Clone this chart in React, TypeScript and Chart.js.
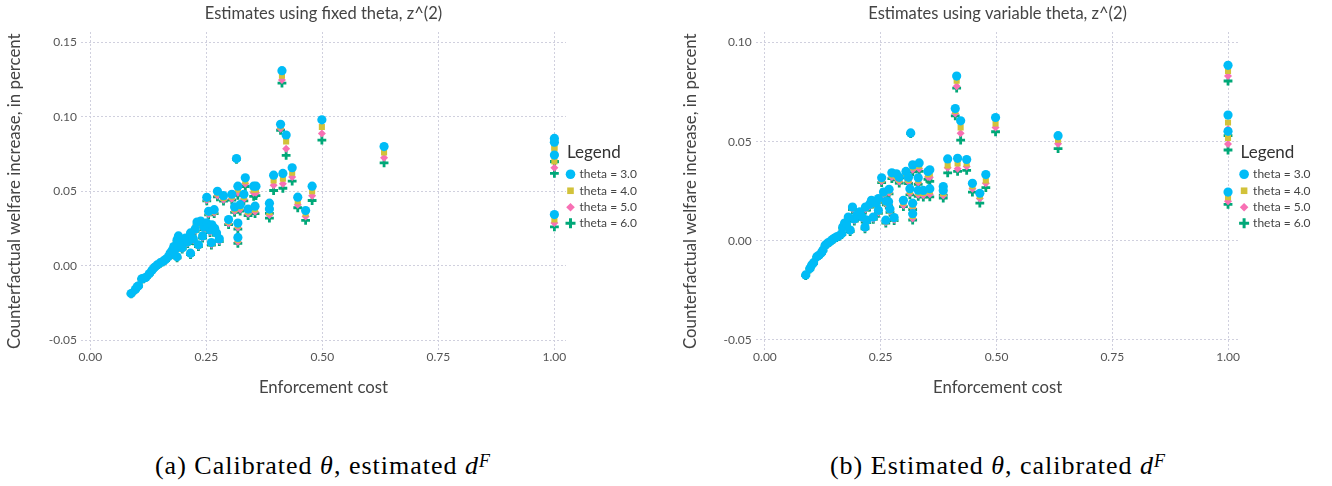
import React, { useEffect, useRef } from 'react';
import { Chart, registerables } from 'chart.js';

Chart.register(...registerables);

// ---------- data ----------
const seriesLabels = ['theta = 3.0', 'theta = 4.0', 'theta = 5.0', 'theta = 6.0'];
const xTicks = [0, 0.25, 0.5, 0.75, 1.0];
const leftYTicks = [-0.05, 0.0, 0.05, 0.1, 0.15];
const rightYTicks = [-0.05, 0.0, 0.05, 0.1];

// Panel (a): fixed theta
const leftX = [
  0.088, 0.097, 0.101, 0.104, 0.111, 0.115, 0.120, 0.127, 0.133, 0.138,
  0.144, 0.151, 0.157, 0.162, 0.168, 0.172, 0.176, 0.180, 0.183, 0.187,
  0.187, 0.190, 0.193, 0.198, 0.205, 0.210, 0.216, 0.216, 0.222, 0.226,
  0.230, 0.233, 0.238, 0.242, 0.245, 0.251, 0.251, 0.255, 0.258, 0.261,
  0.262, 0.267, 0.268, 0.272, 0.274, 0.278, 0.287, 0.298, 0.305, 0.311,
  0.315, 0.318, 0.318, 0.318, 0.323, 0.331, 0.334, 0.340, 0.352, 0.355,
  0.357, 0.386, 0.386, 0.395, 0.413, 0.410, 0.415, 0.422, 0.435, 0.447,
  0.464, 0.478, 0.499, 0.633, 1.0, 1.0, 1.0, 1.0,
];
const leftTheta3 = [
  -0.0187, -0.0160, -0.0142, -0.0135, -0.0088, -0.0085, -0.0078, -0.0055, -0.0030, -0.0012,
  0.0005, 0.0020, 0.0030, 0.0042, 0.0060, 0.0084, 0.0100, 0.0128, 0.0110, 0.0174,
  0.0060, 0.0200, 0.0150, 0.0120, 0.0185, 0.0160, 0.0220, 0.0084, 0.0180, 0.0246,
  0.0293, 0.0140, 0.0300, 0.0200, 0.0260, 0.0287, 0.0459, 0.0365, 0.0240, 0.0155,
  0.0275, 0.0376, 0.0250, 0.0220, 0.0500, 0.0180, 0.0470, 0.0310, 0.0480, 0.0395,
  0.0720, 0.0534, 0.0286, 0.0190, 0.0410, 0.0480, 0.0590, 0.0380, 0.0534, 0.0400,
  0.0534, 0.0420, 0.0380, 0.0608, 0.1310, 0.0950, 0.0620, 0.0878, 0.0658, 0.0460,
  0.0370, 0.0534, 0.0980, 0.0800, 0.0855, 0.0830, 0.0743, 0.0343,
];
const leftTheta4 = [
  -0.0188, -0.0161, -0.0143, -0.0136, -0.0089, -0.0086, -0.0079, -0.0056, -0.0031, -0.0013,
  0.0004, 0.0018, 0.0028, 0.0040, 0.0058, 0.0081, 0.0097, 0.0124, 0.0107, 0.0169,
  0.0057, 0.0195, 0.0146, 0.0116, 0.0180, 0.0155, 0.0214, 0.0080, 0.0175, 0.0239,
  0.0285, 0.0135, 0.0292, 0.0194, 0.0252, 0.0279, 0.0450, 0.0355, 0.0233, 0.0148,
  0.0267, 0.0365, 0.0242, 0.0213, 0.0485, 0.0172, 0.0455, 0.0296, 0.0463, 0.0380,
  0.0718, 0.0510, 0.0270, 0.0175, 0.0392, 0.0462, 0.0568, 0.0362, 0.0510, 0.0380,
  0.0512, 0.0392, 0.0360, 0.0572, 0.1277, 0.0935, 0.0585, 0.0834, 0.0625, 0.0433,
  0.0350, 0.0500, 0.0932, 0.0760, 0.0795, 0.0785, 0.0700, 0.0310,
];
const leftTheta5 = [
  -0.0189, -0.0162, -0.0144, -0.0137, -0.0090, -0.0087, -0.0080, -0.0057, -0.0032, -0.0014,
  0.0003, 0.0017, 0.0027, 0.0038, 0.0056, 0.0079, 0.0095, 0.0121, 0.0104, 0.0166,
  0.0055, 0.0191, 0.0142, 0.0113, 0.0176, 0.0151, 0.0209, 0.0077, 0.0170, 0.0234,
  0.0279, 0.0131, 0.0286, 0.0189, 0.0246, 0.0273, 0.0442, 0.0347, 0.0227, 0.0143,
  0.0260, 0.0356, 0.0236, 0.0207, 0.0472, 0.0166, 0.0443, 0.0284, 0.0450, 0.0368,
  0.0716, 0.0490, 0.0256, 0.0160, 0.0378, 0.0448, 0.0550, 0.0348, 0.0490, 0.0362,
  0.0490, 0.0372, 0.0340, 0.0540, 0.1248, 0.0920, 0.0550, 0.0786, 0.0595, 0.0410,
  0.0330, 0.0469, 0.0888, 0.0725, 0.0745, 0.0742, 0.0658, 0.0286,
];
const leftTheta6 = [
  -0.0190, -0.0163, -0.0145, -0.0138, -0.0091, -0.0088, -0.0081, -0.0058, -0.0033, -0.0015,
  0.0002, 0.0016, 0.0026, 0.0037, 0.0055, 0.0077, 0.0093, 0.0119, 0.0102, 0.0163,
  0.0053, 0.0188, 0.0140, 0.0111, 0.0173, 0.0148, 0.0206, 0.0075, 0.0167, 0.0230,
  0.0274, 0.0128, 0.0281, 0.0185, 0.0242, 0.0268, 0.0436, 0.0341, 0.0223, 0.0139,
  0.0255, 0.0349, 0.0231, 0.0203, 0.0462, 0.0162, 0.0434, 0.0276, 0.0440, 0.0358,
  0.0714, 0.0472, 0.0246, 0.0150, 0.0366, 0.0436, 0.0532, 0.0336, 0.0466, 0.0350,
  0.0470, 0.0352, 0.0320, 0.0505, 0.1226, 0.0910, 0.0520, 0.0741, 0.0568, 0.0389,
  0.0304, 0.0438, 0.0843, 0.0690, 0.0700, 0.0698, 0.0620, 0.0260,
];

// Panel (b): variable theta
const rightX = [
  0.088, 0.097, 0.101, 0.105, 0.112, 0.117, 0.122, 0.125, 0.130, 0.135,
  0.140, 0.145, 0.149, 0.155, 0.160, 0.166, 0.168, 0.172, 0.176, 0.180,
  0.184, 0.189, 0.193, 0.198, 0.205, 0.210, 0.216, 0.217, 0.220, 0.226,
  0.230, 0.234, 0.240, 0.245, 0.245, 0.252, 0.256, 0.261, 0.262, 0.267,
  0.268, 0.270, 0.274, 0.279, 0.284, 0.290, 0.299, 0.3045, 0.310, 0.313,
  0.3147, 0.319, 0.319, 0.319, 0.331, 0.331, 0.333, 0.342, 0.352, 0.356,
  0.356, 0.385, 0.385, 0.3946, 0.411, 0.414, 0.416, 0.4226, 0.4356, 0.448,
  0.464, 0.477, 0.498, 0.633, 1.0, 1.0, 1.0, 1.0,
];
const rightTheta3 = [
  -0.0172, -0.0139, -0.0122, -0.0110, -0.0080, -0.0072, -0.0060, -0.0047, -0.0022, -0.0012,
  -0.0005, 0.0005, 0.0012, 0.0020, 0.0025, 0.0037, 0.0070, 0.0090, 0.0087, 0.0120,
  0.0054, 0.0170, 0.0110, 0.0130, 0.0146, 0.0120, 0.0070, 0.0170, 0.0104, 0.0185,
  0.0204, 0.0120, 0.0190, 0.0213, 0.0154, 0.0318, 0.0246, 0.0104, 0.0200, 0.0197,
  0.0260, 0.0160, 0.0343, 0.0117, 0.0338, 0.0320, 0.0204, 0.0350, 0.0320, 0.0263,
  0.0544, 0.0383, 0.0190, 0.0137, 0.0318, 0.0255, 0.0393, 0.0254, 0.0350, 0.0358,
  0.0263, 0.0274, 0.0254, 0.0413, 0.0667, 0.0831, 0.0416, 0.0605, 0.0410, 0.0290,
  0.0240, 0.0334, 0.0622, 0.0530, 0.0885, 0.0634, 0.0552, 0.0246,
];
const rightTheta4 = [
  -0.0173, -0.0140, -0.0123, -0.0111, -0.0081, -0.0073, -0.0061, -0.0048, -0.0023, -0.0013,
  -0.0006, 0.0004, 0.0011, 0.0018, 0.0023, 0.0035, 0.0067, 0.0087, 0.0084, 0.0116,
  0.0051, 0.0165, 0.0106, 0.0126, 0.0141, 0.0116, 0.0066, 0.0164, 0.0099, 0.0179,
  0.0197, 0.0115, 0.0183, 0.0205, 0.0148, 0.0308, 0.0237, 0.0098, 0.0192, 0.0189,
  0.0250, 0.0153, 0.0331, 0.0111, 0.0325, 0.0308, 0.0192, 0.0336, 0.0307, 0.0250,
  0.0543, 0.0370, 0.0177, 0.0125, 0.0305, 0.0243, 0.0378, 0.0241, 0.0335, 0.0340,
  0.0250, 0.0258, 0.0240, 0.0380, 0.0655, 0.0807, 0.0390, 0.0572, 0.0390, 0.0275,
  0.0225, 0.0304, 0.0592, 0.0510, 0.0856, 0.0597, 0.0519, 0.0220,
];
const rightTheta5 = [
  -0.0174, -0.0141, -0.0124, -0.0112, -0.0082, -0.0074, -0.0062, -0.0049, -0.0024, -0.0014,
  -0.0007, 0.0003, 0.0010, 0.0017, 0.0022, 0.0033, 0.0065, 0.0084, 0.0081, 0.0113,
  0.0049, 0.0161, 0.0103, 0.0122, 0.0137, 0.0112, 0.0063, 0.0159, 0.0095, 0.0174,
  0.0192, 0.0111, 0.0178, 0.0199, 0.0143, 0.0300, 0.0230, 0.0094, 0.0186, 0.0183,
  0.0243, 0.0148, 0.0322, 0.0106, 0.0316, 0.0299, 0.0180, 0.0326, 0.0297, 0.0240,
  0.0542, 0.0358, 0.0166, 0.0112, 0.0294, 0.0232, 0.0363, 0.0230, 0.0322, 0.0320,
  0.0235, 0.0244, 0.0229, 0.0368, 0.0642, 0.0780, 0.0363, 0.0542, 0.0375, 0.0263,
  0.0213, 0.0290, 0.0572, 0.0490, 0.0831, 0.0564, 0.0488, 0.0200,
];
const rightTheta6 = [
  -0.0175, -0.0142, -0.0125, -0.0113, -0.0083, -0.0075, -0.0063, -0.0050, -0.0025, -0.0015,
  -0.0008, 0.0002, 0.0009, 0.0016, 0.0021, 0.0032, 0.0063, 0.0082, 0.0079, 0.0110,
  0.0047, 0.0158, 0.0100, 0.0119, 0.0134, 0.0109, 0.0060, 0.0155, 0.0092, 0.0170,
  0.0187, 0.0108, 0.0173, 0.0194, 0.0139, 0.0293, 0.0225, 0.0090, 0.0181, 0.0178,
  0.0237, 0.0143, 0.0314, 0.0102, 0.0308, 0.0291, 0.0172, 0.0317, 0.0289, 0.0232,
  0.0541, 0.0348, 0.0158, 0.0105, 0.0285, 0.0224, 0.0350, 0.0221, 0.0310, 0.0300,
  0.0222, 0.0230, 0.0216, 0.0343, 0.0630, 0.0770, 0.0350, 0.0508, 0.0355, 0.0246,
  0.0190, 0.0268, 0.0550, 0.0465, 0.0806, 0.0530, 0.0458, 0.0184,
];

// ---------- styling ----------
const FONT = 'Lato, "Noto Sans", sans-serif';
const colors = ['#00BCF7', '#D2C23A', '#F870B4', '#00A878'];
const pointStyles = ['circle', 'rect', 'rectRot', 'cross'];
const pointRadii = [4.6, 4.3, 4.0, 4.4];
const borderWidths = [0, 0, 0, 2.8];
const gridColor = '#d0d0de';

function legendPlugin() {
  return {
    id: 'customLegend',
    afterDraw(chart: any) {
      const { ctx, chartArea } = chart;
      const r = chartArea.right;
      const cy = (chartArea.top + chartArea.bottom) / 2;
      ctx.save();
      ctx.fillStyle = '#333';
      ctx.font = `17px ${FONT}`;
      ctx.textBaseline = 'middle';
      ctx.textAlign = 'left';
      ctx.fillText('Legend', r + 1, cy - 39);
      const offs = [-17, -0.5, 16, 32];
      seriesLabels.forEach((label, i) => {
        const y = cy + offs[i];
        const x = r + 4.5;
        ctx.fillStyle = colors[i];
        ctx.strokeStyle = colors[i];
        ctx.beginPath();
        if (i === 0) {
          ctx.arc(x, y, 4.8, 0, Math.PI * 2);
          ctx.fill();
        } else if (i === 1) {
          ctx.fillRect(x - 3.3, y - 3.3, 6.6, 6.6);
        } else if (i === 2) {
          ctx.moveTo(x, y - 4.3);
          ctx.lineTo(x + 4.3, y);
          ctx.lineTo(x, y + 4.3);
          ctx.lineTo(x - 4.3, y);
          ctx.closePath();
          ctx.fill();
        } else {
          ctx.lineWidth = 3;
          ctx.moveTo(x - 5, y);
          ctx.lineTo(x + 5, y);
          ctx.moveTo(x, y - 5);
          ctx.lineTo(x, y + 5);
          ctx.stroke();
        }
        ctx.fillStyle = '#444';
        ctx.font = `12px ${FONT}`;
        ctx.fillText(label, r + 13.5, y);
      });
      ctx.restore();
    },
  };
}

type PanelProps = {
  left: number;
  width: number;
  height: number;
  title: string;
  xs: number[];
  series: number[][];
  yTicks: number[];
  yMin: number;
  yMax: number;
  yAxisWidth: number;
  padRight: number;
};

function Panel(p: PanelProps) {
  const ref = useRef<HTMLCanvasElement | null>(null);
  useEffect(() => {
    if (!ref.current) return;
    const datasets = p.series.map((vals, i) => ({
      label: seriesLabels[i],
      data: p.xs.map((x, j) => ({ x, y: vals[j] })),
      pointStyle: pointStyles[i],
      pointRadius: pointRadii[i],
      pointHoverRadius: pointRadii[i],
      backgroundColor: colors[i],
      borderColor: colors[i],
      borderWidth: borderWidths[i],
      showLine: false,
    }));
    const tickFont = { family: FONT, size: 12 };
    const chart = new Chart(ref.current, {
      type: 'scatter',
      data: { datasets: datasets as any },
      options: {
        animation: false,
        responsive: false,
        maintainAspectRatio: false,
        events: [],
        layout: { padding: { left: 0, right: p.padRight, top: 0, bottom: 0 } },
        plugins: {
          legend: { display: false },
          tooltip: { enabled: false },
          title: {
            display: true,
            text: p.title,
            fullSize: false,
            color: '#444',
            font: { family: FONT, size: 16.5, weight: 'normal' },
            padding: { top: 4.2, bottom: 8 },
          },
        },
        scales: {
          x: {
            type: 'linear',
            min: -0.02,
            max: 1.025,
            afterBuildTicks: (ax: any) => {
              ax.ticks = xTicks.map((v) => ({ value: v }));
            },
            afterFit: (s: any) => {
              s.height = 59.5;
            },
            grid: { color: gridColor, lineWidth: 1, drawTicks: false },
            border: { display: false, dash: [2, 2] },
            ticks: {
              padding: -1,
              color: '#555',
              font: tickFont,
              maxRotation: 0,
              autoSkip: false,
              callback: (v: any) => Number(v).toFixed(2),
            },
            title: {
              display: true,
              text: 'Enforcement cost',
              color: '#444',
              font: { family: FONT, size: 16.8 },
              padding: { top: 0, bottom: 12.5 },
            },
          },
          y: {
            type: 'linear',
            min: p.yMin,
            max: p.yMax,
            afterBuildTicks: (ax: any) => {
              ax.ticks = p.yTicks.map((v) => ({ value: v }));
            },
            afterFit: (s: any) => {
              s.width = p.yAxisWidth;
            },
            grid: { color: gridColor, lineWidth: 1, drawTicks: false },
            border: { display: false, dash: [2, 2] },
            ticks: {
              padding: 4,
              color: '#555',
              font: tickFont,
              autoSkip: false,
              callback: (v: any) => Number(v).toFixed(2),
            },
            title: {
              display: true,
              text: 'Counterfactual welfare increase, in percent',
              color: '#444',
              font: { family: FONT, size: 16.8 },
              padding: { top: 5, bottom: 0 },
            },
          },
        },
      },
      plugins: [legendPlugin()],
    } as any);
    return () => chart.destroy();
  }, []);
  return (
    <canvas
      ref={ref}
      width={p.width}
      height={p.height}
      style={{ position: 'absolute', left: p.left, top: 0, width: p.width, height: p.height }}
    />
  );
}

const captionStyle: React.CSSProperties = {
  position: 'absolute',
  top: 453,
  transform: 'translateX(-50%)',
  whiteSpace: 'nowrap',
  fontFamily: '"Liberation Serif", "DejaVu Serif", serif',
  fontSize: 26,
  lineHeight: '26px',
  letterSpacing: '1px',
  color: '#000',
};

const supStyle: React.CSSProperties = { fontSize: 18, verticalAlign: 'top', position: 'relative', top: -5 };

export default function App() {
  return (
    <div style={{ position: 'absolute', left: 0, top: 0, width: 1332, height: 486, background: '#fff', overflow: 'hidden' }}>
      <Panel
        left={0}
        width={666}
        height={410}
        title="Estimates using fixed theta, z^(2)"
        xs={leftX}
        series={[leftTheta3, leftTheta4, leftTheta5, leftTheta6]}
        yTicks={leftYTicks}
        yMin={-0.057}
        yMax={0.157}
        yAxisWidth={81}
        padRight={100}
      />
      <Panel
        left={676}
        width={656}
        height={410}
        title="Estimates using variable theta, z^(2)"
        xs={rightX}
        series={[rightTheta3, rightTheta4, rightTheta5, rightTheta6]}
        yTicks={rightYTicks}
        yMin={-0.0553}
        yMax={0.1053}
        yAxisWidth={79.7}
        padRight={92.4}
      />
      <div style={{ ...captionStyle, left: 323 }}>
        (a) Calibrated <i>θ</i>, estimated <i>d</i><sup style={supStyle}><i>F</i></sup>
      </div>
      <div style={{ ...captionStyle, left: 998 }}>
        (b) Estimated <i>θ</i>, calibrated <i>d</i><sup style={supStyle}><i>F</i></sup>
      </div>
    </div>
  );
}
